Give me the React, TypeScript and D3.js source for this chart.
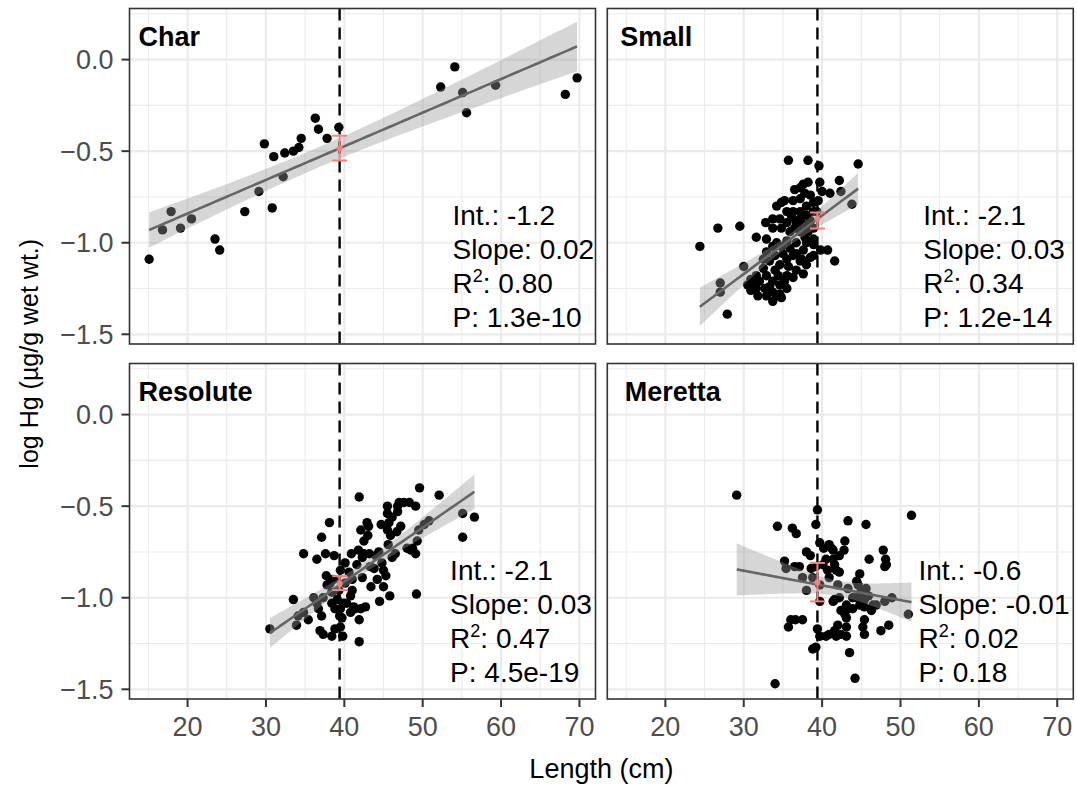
import React from 'react';
import * as d3 from 'd3';

const W = 1077;
const H = 789;
const FONT = '"Liberation Sans", Arial, Helvetica, sans-serif';

// Lakes, in facet order (row-major, 2 x 2)
const sites = ['Char', 'Small', 'Resolute', 'Meretta'];

// Fork length (cm) and log10 Hg (ug/g wet wt.) per fish
const charLength = [15.1, 16.8, 17.9, 19.1, 20.5, 23.5, 24.1, 27.3, 29.1, 29.8, 30.8, 31.0, 32.2, 32.4, 33.5, 34.2, 34.5, 36.3, 36.7, 37.8, 39.3, 52.3, 54.1, 55.1, 55.6, 59.3, 68.2, 69.7];
const charHg = [-1.09, -0.93, -0.83, -0.92, -0.87, -0.98, -1.04, -0.83, -0.72, -0.46, -0.81, -0.53, -0.64, -0.51, -0.50, -0.48, -0.43, -0.32, -0.38, -0.43, -0.37, -0.15, -0.04, -0.18, -0.29, -0.14, -0.19, -0.10];

const smallLength = [24.4, 26.7, 29.5, 27.9, 27.0, 27.0, 30.0, 35.7, 38.2, 39.6, 44.6, 42.2, 42.4, 43.8, 41.6, 40.7, 39.8, 31.6, 32.8, 33.7, 35.2, 34.2, 37.2, 38.2, 39.7, 41.0, 39.5, 38.9,
  37.8, 38.5, 37.2, 38.9, 35.5, 36.3, 37.2, 38.0, 34.6, 35.5, 36.7, 37.6, 34.8, 35.9, 37.2, 38.2, 38.9, 32.9, 34.2, 35.5, 36.7, 38.0, 38.9, 32.9, 34.0, 35.0, 36.3, 37.4, 38.5, 37.2,
  33.3, 34.6, 35.7, 36.7, 35.5, 36.3, 34.4, 30.9, 32.0, 32.9, 33.7, 34.6, 31.6, 32.7, 33.7, 34.6, 30.9, 31.8, 33.7, 34.2,
  34.8, 36.3, 38.0, 36.1, 37.2, 38.5, 33.7, 36.5, 37.8, 38.9, 34.8, 35.9, 37.6, 38.9, 33.7, 32.5, 35.5, 38.0, 34.0, 32.5, 37.6, 31.6, 35.2, 33.3, 30.5, 35.5, 32.9, 34.8, 31.4, 36.7, 39.3, 40.0, 36.5, 37.6];
const smallHg = [-1.02, -0.92, -0.91, -1.39, -1.22, -1.27, -1.13, -0.55, -0.55, -0.58, -0.57, -0.66, -0.72, -0.79, -1.10, -1.04, -1.04, -0.97, -0.89, -0.87, -0.77, -0.80, -0.70, -0.67, -0.67, -0.73, -0.77, -0.83,
  -0.73, -0.74, -0.76, -0.78, -0.83, -0.83, -0.83, -0.85, -0.87, -0.89, -0.89, -0.90, -0.92, -0.94, -0.94, -0.94, -0.92, -0.98, -1.00, -0.99, -1.00, -1.00, -1.01, -1.05, -1.07, -1.06, -1.07, -1.09, -1.08, -1.10,
  -1.10, -1.12, -1.13, -1.15, -1.18, -1.19, -1.18, -1.20, -1.21, -1.18, -1.21, -1.23, -1.25, -1.25, -1.27, -1.28, -1.26, -1.29, -1.32, -1.29,
  -0.78, -0.77, -0.80, -0.86, -0.87, -0.88, -0.92, -0.92, -0.97, -0.98, -1.02, -1.03, -1.04, -1.07, -1.02, -1.09, -1.09, -1.12, -1.15, -1.14, -1.17, -1.18, -1.21, -1.24, -1.23, -1.25, -1.29, -1.30, -1.22, -1.06, -0.83, -0.72, -0.71, -0.68];

const resoluteLength = [30.5, 33.5, 33.9, 34.8, 35.4, 36.1, 36.5, 36.7, 36.9, 37.1, 37.1, 37.3, 37.6, 37.7, 38.1, 38.2, 38.6, 38.7, 38.8, 39.1, 39.3, 39.4, 39.5, 39.5, 39.7, 39.9, 40.1, 40.6, 40.8, 40.9,
  41.0, 41.2, 41.4, 41.6, 41.8, 41.9, 41.9, 41.9, 42.1, 42.3, 42.3, 42.5, 42.7, 42.9, 43.0, 43.1, 43.2, 43.4, 43.8, 44.0, 44.4, 44.5, 44.7, 44.8, 45.0, 45.0, 45.3, 45.5, 45.5, 45.6,
  45.7, 45.8, 45.9, 46.1, 46.5, 46.7, 46.8, 46.8, 47.0, 47.2, 48.0, 48.3, 48.5, 49.1, 49.1, 49.2, 49.3, 49.5, 49.6, 50.2, 50.8, 52.1, 55.1, 55.1, 56.6, 37.8, 38.4, 38.8, 39.5, 39.8,
  40.1, 41.0, 40.3, 38.4, 37.3, 36.5, 42.5, 43.3, 44.2, 45.5, 46.1, 42.1, 47.6, 48.7, 40.8, 38.4, 34.8, 34.1];
const resoluteHg = [-1.17, -1.01, -1.15, -0.76, -1.12, -1.00, -0.79, -1.06, -1.18, -1.10, -0.67, -1.20, -0.76, -0.88, -0.59, -0.92, -0.90, -0.77, -1.17, -1.01, -0.96, -1.10, -0.85, -1.06, -1.11, -1.03, -0.92, -0.86, -0.99, -0.76,
  -0.96, -1.05, -1.06, -0.82, -0.74, -0.45, -1.12, -1.24, -1.06, -0.78, -0.89, -0.69, -1.05, -0.59, -0.66, -0.61, -0.76, -0.94, -0.84, -0.77, -0.75, -1.02, -0.60, -0.81, -0.94, -0.85, -0.88, -0.50, -0.54, -0.71,
  -0.59, -0.99, -0.66, -0.78, -0.76, -0.64, -0.50, -0.53, -0.48, -0.61, -0.73, -0.48, -0.74, -0.50, -0.76, -0.98, -0.69, -0.63, -0.40, -0.60, -0.58, -0.44, -0.54, -0.67, -0.56, -0.93, -1.03, -1.06, -1.16, -1.21,
  -0.81, -0.90, -1.03, -0.97, -1.00, -1.03, -0.76, -0.83, -0.90, -0.63, -0.56, -0.63, -0.48, -0.73, -1.08, -1.21, -1.08, -1.10];

const merettaLength = [29.1, 34.0, 34.3, 36.2, 36.7, 38.0, 38.5, 39.2, 39.4, 39.7, 40.2, 40.9, 41.2, 42.9, 42.8, 43.3, 45.6, 47.8, 48.1, 48.2, 48.0, 51.4, 46.0, 35.2, 35.4, 36.5, 37.1, 38.6, 38.8, 37.5,
  38.0, 39.7, 40.1, 40.5, 41.4, 41.6, 41.8, 42.2, 40.9, 42.0, 43.3, 44.4, 44.8, 44.6, 45.6, 45.2, 44.4, 41.6, 41.4, 42.2, 42.4, 42.9, 43.3, 43.9, 44.8, 45.4, 46.3, 48.0, 48.9, 51.0,
  43.1, 43.1, 45.4, 45.2, 45.4, 42.0, 41.6, 40.9, 41.8, 43.1, 39.4, 39.7, 38.8, 39.2, 36.0, 36.6, 37.5, 35.7, 39.7, 47.5, 48.5, 43.5, 44.2, 45.0, 45.4, 46.5,
  41.4, 42.2, 39.2, 40.7, 43.1, 43.9, 45.9, 46.9, 42.4, 40.5];
const merettaHg = [-0.44, -1.47, -0.61, -0.62, -0.65, -0.75, -0.77, -0.60, -0.52, -0.70, -0.73, -0.71, -0.73, -0.69, -0.74, -0.58, -0.60, -0.74, -0.79, -0.82, -0.83, -0.55, -0.79, -0.80, -0.84, -0.83, -0.83, -0.84, -0.89, -0.89,
  -0.96, -0.93, -0.82, -0.79, -0.79, -0.82, -0.85, -0.86, -0.89, -0.93, -0.95, -0.91, -0.87, -0.93, -0.95, -1.00, -1.00, -1.01, -1.02, -1.00, -1.07, -1.09, -1.06, -1.06, -1.04, -1.05, -1.07, -1.02, -1.00, -1.09,
  -1.11, -1.16, -1.12, -1.16, -1.20, -1.15, -1.18, -1.20, -1.21, -1.21, -1.17, -1.21, -1.28, -1.27, -1.12, -1.12, -1.12, -1.16, -1.02, -1.18, -1.15, -1.30, -1.44, -0.96, -1.01, -1.04,
  -0.74, -0.77, -0.83, -0.85, -1.04, -1.00, -0.99, -1.04, -1.20, -1.21];

const lengths = [charLength, smallLength, resoluteLength, merettaLength];
const hgValues = [charHg, smallHg, resoluteHg, merettaHg];

// Model estimate at the reference length, with its interval
const refLength = 39.4;
const estMean = [-0.484, -0.871, -0.924, -0.916];
const estLow = [-0.551, -0.922, -0.958, -1.02];
const estHigh = [-0.416, -0.835, -0.882, -0.81];

// Regression summaries printed in each panel
const intLabels = ['-1.2', '-2.1', '-2.1', '-0.6'];
const slopeLabels = ['0.02', '0.03', '0.03', '-0.01'];
const r2Labels = ['0.80', '0.34', '0.47', '0.02'];
const pLabels = ['1.3e-10', '1.2e-14', '4.5e-19', '0.18'];

const xTicks = [20, 30, 40, 50, 60, 70];
const xMinor = [15, 25, 35, 45, 55, 65];
const yTicks = [0, -0.5, -1, -1.5];
const yMinor = [0.25, -0.25, -0.75, -1.25];
const yTickLabels = ['0.0', '\u22120.5', '\u22121.0', '\u22121.5'];

// Layout
const X_DOMAIN: [number, number] = [12.59, 72.05];
const Y_DOMAIN: [number, number] = [-1.553, 0.279];
const COL_X = [129.5, 607.3];
const ROW_Y = [8.5, 363.5];
const PANEL_W = 466;
const PANEL_H = 335.5;
const TITLE_DX = [9, 13, 9, 17.5];
const STATS_X = [53.8, 52.9, 53.5, 52.3];

// Linear fit with 95% confidence band, evaluated on 80 points across the data range
function lmFit(xs: number[], ys: number[]) {
  const n = xs.length;
  const mx = d3.mean(xs) as number;
  const my = d3.mean(ys) as number;
  let sxx = 0, sxy = 0;
  for (let i = 0; i < n; i++) {
    sxx += (xs[i] - mx) ** 2;
    sxy += (xs[i] - mx) * (ys[i] - my);
  }
  const b = sxy / sxx;
  const a = my - b * mx;
  let sse = 0;
  for (let i = 0; i < n; i++) sse += (ys[i] - a - b * xs[i]) ** 2;
  const s = Math.sqrt(sse / (n - 2));
  const t = 1.96 + 2.5 / (n - 2);
  const [lo, hi] = d3.extent(xs) as [number, number];
  const band = d3.range(80).map((i) => {
    const x = lo + ((hi - lo) * i) / 79;
    const yhat = a + b * x;
    const se = s * Math.sqrt(1 / n + (x - mx) ** 2 / sxx);
    return { x, y: yhat, lo: yhat - t * se, hi: yhat + t * se };
  });
  return { a, b, band };
}

function Panel({ idx }: { idx: number }) {
  const col = idx % 2;
  const row = Math.floor(idx / 2);
  const x0 = COL_X[col];
  const y0 = ROW_Y[row];
  const x = d3.scaleLinear().domain(X_DOMAIN).range([x0, x0 + PANEL_W]);
  const y = d3.scaleLinear().domain(Y_DOMAIN).range([y0 + PANEL_H, y0]);
  const xs = lengths[idx];
  const ys = hgValues[idx];
  const fit = lmFit(xs, ys);
  const area = d3
    .area<{ x: number; lo: number; hi: number }>()
    .x((d) => x(d.x))
    .y0((d) => y(d.lo))
    .y1((d) => y(d.hi));
  const line = d3
    .line<{ x: number; y: number }>()
    .x((d) => x(d.x))
    .y((d) => y(d.y));
  const clipId = `clip-${idx}`;
  const capHalf = 0.95;
  const statsLeft = x(STATS_X[idx]);
  const statsTop = y0 + 216;
  const step = 34;

  return (
    <g>
      <defs>
        <clipPath id={clipId}>
          <rect x={x0} y={y0} width={PANEL_W} height={PANEL_H} />
        </clipPath>
      </defs>
      <rect x={x0} y={y0} width={PANEL_W} height={PANEL_H} fill="#ffffff" />
      <g clipPath={`url(#${clipId})`}>
        {xMinor.map((v) => (
          <line key={`xm${v}`} x1={x(v)} x2={x(v)} y1={y0} y2={y0 + PANEL_H} stroke="#EBEBEB" strokeWidth={1.1} />
        ))}
        {yMinor.map((v) => (
          <line key={`ym${v}`} x1={x0} x2={x0 + PANEL_W} y1={y(v)} y2={y(v)} stroke="#EBEBEB" strokeWidth={1.1} />
        ))}
        {xTicks.map((v) => (
          <line key={`xM${v}`} x1={x(v)} x2={x(v)} y1={y0} y2={y0 + PANEL_H} stroke="#EBEBEB" strokeWidth={2.2} />
        ))}
        {yTicks.map((v) => (
          <line key={`yM${v}`} x1={x0} x2={x0 + PANEL_W} y1={y(v)} y2={y(v)} stroke="#EBEBEB" strokeWidth={2.2} />
        ))}
        {xs.map((v, i) => (
          <circle key={`p${i}`} cx={x(v)} cy={y(ys[i])} r={4.7} fill="#000000" />
        ))}
        <path d={area(fit.band) || ''} fill="#999999" fillOpacity={0.4} />
        <path d={line(fit.band) || ''} fill="none" stroke="#666666" strokeWidth={2.6} />
        <line x1={x(refLength)} x2={x(refLength)} y1={y0} y2={y0 + PANEL_H} stroke="#000000" strokeWidth={2.4} strokeDasharray="12 7" />
        <g stroke="#F4827B" strokeWidth={2}>
          <line x1={x(refLength)} x2={x(refLength)} y1={y(estLow[idx])} y2={y(estHigh[idx])} />
          <line x1={x(refLength - capHalf)} x2={x(refLength + capHalf)} y1={y(estLow[idx])} y2={y(estLow[idx])} />
          <line x1={x(refLength - capHalf)} x2={x(refLength + capHalf)} y1={y(estHigh[idx])} y2={y(estHigh[idx])} />
        </g>
        <circle cx={x(refLength)} cy={y(estMean[idx])} r={3} fill="#F4827B" />
      </g>
      <rect x={x0} y={y0} width={PANEL_W} height={PANEL_H} fill="none" stroke="#333333" strokeWidth={1.6} />
      <text x={x0 + TITLE_DX[idx]} y={y0 + 37} fontFamily={FONT} fontSize={27} fontWeight="bold" fill="#000000">
        {sites[idx]}
      </text>
      <g fontFamily={FONT} fontSize={28} fill="#000000">
        <text x={statsLeft} y={statsTop}>{`Int.: ${intLabels[idx]}`}</text>
        <text x={statsLeft} y={statsTop + step}>{`Slope: ${slopeLabels[idx]}`}</text>
        <text x={statsLeft} y={statsTop + 2 * step}>
          R<tspan fontSize={18} dy={-11}>2</tspan>
          <tspan dy={11}>{`: ${r2Labels[idx]}`}</tspan>
        </text>
        <text x={statsLeft} y={statsTop + 3 * step}>{`P: ${pLabels[idx]}`}</text>
      </g>
      {col === 0 &&
        yTicks.map((v, i) => (
          <g key={`yt${v}`}>
            <line x1={x0 - 8} x2={x0} y1={y(v)} y2={y(v)} stroke="#333333" strokeWidth={2} />
            <text x={x0 - 16} y={y(v) + 9.5} textAnchor="end" fontFamily={FONT} fontSize={27} fill="#4D4D4D">
              {yTickLabels[i]}
            </text>
          </g>
        ))}
      {row === 1 &&
        xTicks.map((v) => (
          <g key={`xt${v}`}>
            <line x1={x(v)} x2={x(v)} y1={y0 + PANEL_H} y2={y0 + PANEL_H + 8} stroke="#333333" strokeWidth={2} />
            <text x={x(v)} y={y0 + PANEL_H + 37} textAnchor="middle" fontFamily={FONT} fontSize={27} fill="#4D4D4D">
              {v}
            </text>
          </g>
        ))}
    </g>
  );
}

export default function App() {
  const plotLeft = COL_X[0];
  const plotRight = COL_X[1] + PANEL_W;
  const plotMidY = (ROW_Y[0] + ROW_Y[1] + PANEL_H) / 2;
  return (
    <svg
      width={W}
      height={H}
      viewBox={`0 0 ${W} ${H}`}
      style={{ position: 'absolute', left: 0, top: 0, background: '#ffffff' }}
    >
      <rect x={0} y={0} width={W} height={H} fill="#ffffff" />
      {sites.map((s, i) => (
        <Panel key={s} idx={i} />
      ))}
      <text x={(plotLeft + plotRight) / 2} y={778} textAnchor="middle" fontFamily={FONT} fontSize={27} fill="#000000">
        Length (cm)
      </text>
      <text
        transform={`translate(38, ${plotMidY}) rotate(-90)`}
        textAnchor="middle"
        fontFamily={FONT}
        fontSize={25}
        fill="#000000"
      >
        log Hg (µg/g wet wt.)
      </text>
    </svg>
  );
}
